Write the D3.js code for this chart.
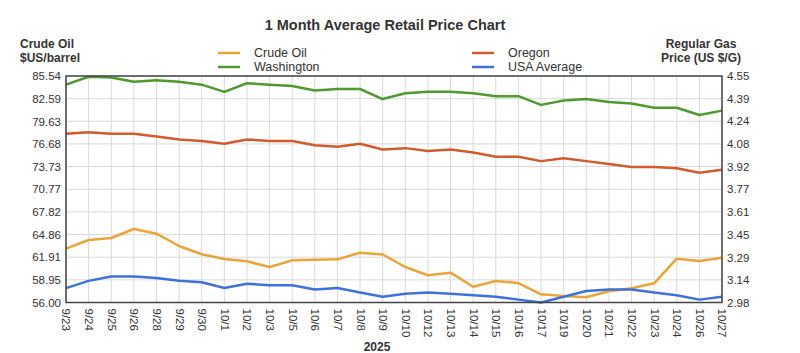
<!DOCTYPE html>
<html>
<head>
<meta charset="utf-8">
<script src="https://cdn.jsdelivr.net/npm/d3@7"></script>
<style>
  body { margin: 0; background: #fff; }
  text { font-family: "Liberation Sans", Arial, sans-serif; fill: #333; }
</style>
</head>
<body>
<div id="chart"></div>
<script>
// categories (trading days)
const dates = ["9/23","9/24","9/25","9/26","9/28","9/29","9/30","10/1","10/2","10/3",
  "10/5","10/6","10/7","10/8","10/9","10/10","10/12","10/13","10/14","10/15",
  "10/16","10/17","10/19","10/20","10/21","10/22","10/23","10/24","10/26","10/27"];

// crude oil, $US/barrel (left axis)
const crudeOil = [63.02,64.15,64.41,65.59,64.97,63.37,62.29,61.67,61.37,60.63,
  61.50,61.58,61.63,62.49,62.26,60.63,59.55,59.89,58.06,58.80,
  58.54,57.07,56.85,56.68,57.46,57.85,58.50,61.71,61.41,61.84];

// regular gas, US $/G (right axis)
const washington = [4.49,4.545,4.54,4.51,4.52,4.51,4.49,4.44,4.50,4.49,
  4.48,4.45,4.46,4.46,4.39,4.43,4.44,4.44,4.43,4.41,
  4.41,4.35,4.38,4.39,4.37,4.36,4.33,4.33,4.28,4.31];
const oregon = [4.15,4.16,4.15,4.15,4.13,4.11,4.10,4.08,4.11,4.10,
  4.10,4.07,4.06,4.08,4.04,4.05,4.03,4.04,4.02,3.99,
  3.99,3.96,3.98,3.96,3.94,3.92,3.92,3.91,3.88,3.90];
const usaAverage = [3.08,3.13,3.16,3.16,3.15,3.13,3.12,3.08,3.11,3.10,
  3.10,3.07,3.08,3.05,3.02,3.04,3.05,3.04,3.03,3.02,
  3.00,2.98,3.02,3.06,3.07,3.07,3.05,3.03,3.00,3.02];

const leftTicks = [56.00,58.95,61.91,64.86,67.82,70.77,73.73,76.68,79.63,82.59,85.54];
const rightTicks = [2.98,3.14,3.29,3.45,3.61,3.77,3.92,4.08,4.24,4.39,4.55];

const series = [
  {name: "Crude Oil", values: crudeOil, axis: "left", color: "#e9a43a"},
  {name: "Washington", values: washington, axis: "right", color: "#4e9a2f"},
  {name: "Oregon", values: oregon, axis: "right", color: "#d15b2c"},
  {name: "USA Average", values: usaAverage, axis: "right", color: "#3e72da"}
];

const W = 800, H = 353;
const margin = {top: 76, right: 78, bottom: 50.5, left: 66};
const width = W - margin.left - margin.right;
const height = H - margin.top - margin.bottom;

const svg = d3.select("#chart").append("svg")
  .attr("width", W).attr("height", H);

const g = svg.append("g")
  .attr("transform", "translate(" + margin.left + "," + margin.top + ")");

// scales
const x = d3.scalePoint().domain(dates).range([0, width]);
const yL = d3.scaleLinear().domain([56.00, 85.54]).range([height, 0]);
const yR = d3.scaleLinear().domain([2.98, 4.55]).range([height, 0]);

// grid
g.append("g").selectAll("line.h")
  .data(leftTicks).join("line")
  .attr("x1", 0).attr("x2", width)
  .attr("y1", d => yL(d)).attr("y2", d => yL(d))
  .attr("stroke", "#d9d9d9").attr("stroke-width", 1);

g.append("g").selectAll("line.v")
  .data(dates).join("line")
  .attr("x1", d => x(d)).attr("x2", d => x(d))
  .attr("y1", 0).attr("y2", height)
  .attr("stroke", "#d9d9d9").attr("stroke-width", 1);

// axes
const leftAxis = g.append("g")
  .call(d3.axisLeft(yL).tickValues(leftTicks).tickFormat(d3.format(".2f")).tickSize(0).tickPadding(5));
const rightAxis = g.append("g")
  .attr("transform", "translate(" + width + ",0)")
  .call(d3.axisRight(yR).tickValues(rightTicks).tickFormat(d3.format(".2f")).tickSize(0).tickPadding(5));
const bottomAxis = g.append("g")
  .attr("transform", "translate(0," + height + ")")
  .call(d3.axisBottom(x).tickSize(0).tickPadding(0));

[leftAxis, rightAxis, bottomAxis].forEach(a => {
  a.select(".domain").remove();
  a.selectAll("text").style("font-size", "11.5px").attr("fill", "#333")
    .style("font-family", "'Liberation Sans', Arial, sans-serif");
});

bottomAxis.selectAll("text")
  .attr("transform", "rotate(90)")
  .attr("text-anchor", "start")
  .attr("x", 6).attr("y", 0).attr("dy", "0.35em");

// lines
series.forEach(s => {
  const yy = s.axis === "left" ? yL : yR;
  const line = d3.line()
    .x((d, i) => x(dates[i]))
    .y(d => yy(d));
  g.append("path")
    .datum(s.values)
    .attr("fill", "none")
    .attr("stroke", s.color)
    .attr("stroke-width", 2.5)
    .attr("stroke-linejoin", "round")
    .attr("d", line);
});

// plot frame
g.append("rect")
  .attr("width", width).attr("height", height)
  .attr("fill", "none").attr("stroke", "#444").attr("stroke-width", 1.5);

// title
svg.append("text")
  .attr("x", 385).attr("y", 30)
  .attr("text-anchor", "middle")
  .style("font-size", "14.5px").style("font-weight", "bold")
  .attr("fill", "#222")
  .text("1 Month Average Retail Price Chart");

// axis titles
const lt = svg.append("text").style("font-size", "12px").style("font-weight", "bold").attr("fill", "#222");
lt.append("tspan").attr("x", 20).attr("y", 48).text("Crude Oil");
lt.append("tspan").attr("x", 20).attr("y", 62).text("$US/barrel");

const rt = svg.append("text").style("font-size", "12px").style("font-weight", "bold")
  .attr("fill", "#222").attr("text-anchor", "middle");
rt.append("tspan").attr("x", 701).attr("y", 48).text("Regular Gas");
rt.append("tspan").attr("x", 701).attr("y", 62).text("Price (US $/G)");

// legend
const legendPos = [[218, 53], [218, 67], [472, 53], [472, 67]];
const legend = svg.append("g").selectAll("g")
  .data(series).join("g")
  .attr("transform", (d, i) => "translate(" + legendPos[i][0] + "," + legendPos[i][1] + ")");
legend.append("line")
  .attr("x1", 0).attr("x2", 22)
  .attr("stroke", d => d.color).attr("stroke-width", 2.5);
legend.append("text")
  .attr("x", 36).attr("dy", "0.35em")
  .style("font-size", "12.5px")
  .text(d => d.name);

// year label
svg.append("text")
  .attr("x", 377).attr("y", 351)
  .attr("text-anchor", "middle")
  .style("font-size", "12px").style("font-weight", "bold")
  .attr("fill", "#222")
  .text("2025");
</script>
</body>
</html>
